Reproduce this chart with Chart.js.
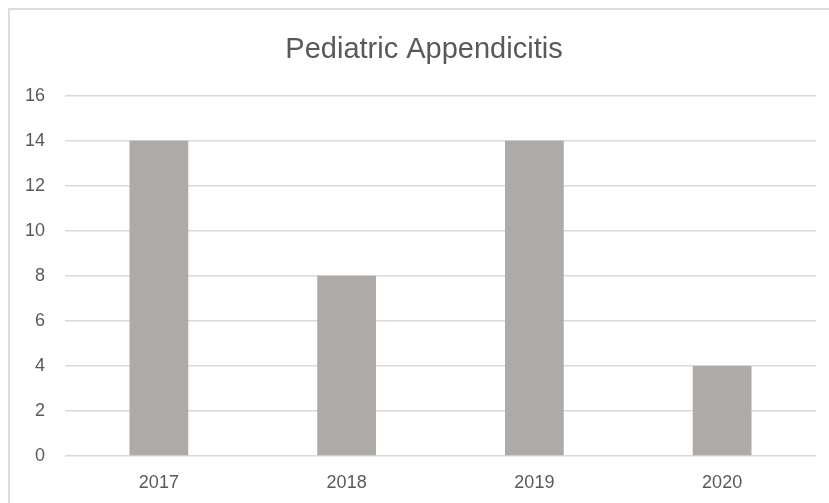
<!DOCTYPE html>
<html>
<head>
<meta charset="utf-8">
<script src="https://cdn.jsdelivr.net/npm/chart.js@4/dist/chart.umd.min.js"></script>
<style>
  html, body { margin: 0; padding: 0; background: #fff; overflow: hidden; }
  #wrap { position: relative; width: 829px; height: 503px; }
  #frame { position: absolute; left: 8px; top: 8px; width: 900px; height: 600px;
           border: 2px solid #dcdcdc; box-sizing: border-box; }
  #myChart { position: absolute; left: 0; top: 0; }
</style>
</head>
<body>
<div id="wrap">
  <div id="frame"></div>
  <canvas id="myChart" width="829" height="503"></canvas>
</div>
<script>
// chart data
var years = ['2017', '2018', '2019', '2020']
var cases = [14, 8, 14, 4]
var yTicks = [0, 2, 4, 6, 8, 10, 12, 14, 16]

// title is centred over the framed area, not the plot, so nudge its box
var shiftTitle = {
    id: 'shiftTitle',
    afterLayout: function(chart) {
        if (chart.titleBlock) chart.titleBlock.left = 32
    }
}

var ctx = document.getElementById('myChart').getContext('2d')

var chart = new Chart(ctx, {
    type: 'bar',
    data: {
        labels: years,
        datasets: [{
            label: 'Pediatric Appendicitis',
            data: cases,
            backgroundColor: '#adaaa7',
            borderWidth: 0,
            barPercentage: 1,
            categoryPercentage: 0.313
        }]
    },
    options: {
        responsive: false,
        animation: false,
        layout: { padding: { top: 33, left: 0, right: 13, bottom: 9 } },
        plugins: {
            legend: { display: false },
            tooltip: { enabled: false },
            title: {
                display: true,
                text: 'Pediatric Appendicitis',
                color: '#595959',
                font: { family: '"Liberation Sans", Arial, sans-serif', size: 29, weight: 'normal' },
                padding: { top: 0, bottom: 27.9 }
            }
        },
        scales: {
            x: {
                afterFit: function(axis) { axis.height = 38 },
                grid: { display: false, drawTicks: false },
                border: { display: false },
                ticks: {
                    color: '#595959',
                    padding: 16.5,
                    font: { family: '"Liberation Sans", Arial, sans-serif', size: 18 }
                }
            },
            y: {
                min: 0,
                max: 16,
                afterBuildTicks: function(axis) {
                    axis.ticks = yTicks.map(function(v) { return { value: v } })
                },
                afterFit: function(axis) { axis.width = 65 },
                grid: { color: '#d9d9d9', lineWidth: 1.5, drawTicks: false },
                border: { display: false },
                ticks: {
                    color: '#595959',
                    padding: 20,
                    font: { family: '"Liberation Sans", Arial, sans-serif', size: 18 }
                }
            }
        }
    },
    plugins: [shiftTitle]
})
</script>
</body>
</html>
